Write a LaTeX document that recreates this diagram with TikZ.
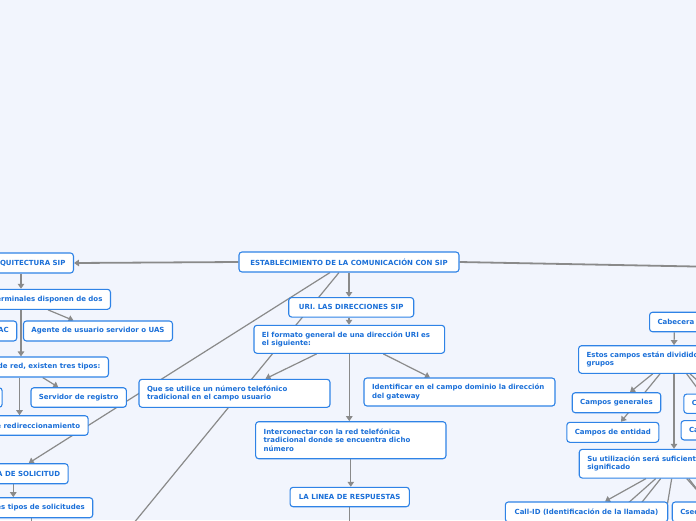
\documentclass[tikz,border=0pt]{standalone}
\usepackage{fontspec}
\setmainfont{DejaVu Sans}
\usetikzlibrary{positioning, arrows.meta, calc}
\definecolor{canvas}{HTML}{F2F5FD}
\definecolor{boxblue}{HTML}{2F83E6}
\definecolor{txtblue}{HTML}{1A6FD8}
\definecolor{linegray}{HTML}{8A8A8A}
\pgfdeclarelayer{bg}
\pgfdeclarelayer{links}
\pgfsetlayers{bg,links,main}

\begin{document}
\begin{tikzpicture}[
        x=1pt, y=-1pt,
        topic/.style={draw=boxblue, fill=white, line width=1.1pt, rounded corners=3pt, text=txtblue, font=\fontsize{7}{8.4}\selectfont\bfseries, inner xsep=8pt, inner ysep=0pt, minimum height=20pt, align=center},
        multi/.style={topic, align=left},
        link/.style={draw=linegray, line width=1.2pt, -{Triangle[width=6.5pt,length=5pt]}},
        mainlink/.style={link, line width=1.8pt}
    ]

    \useasboundingbox (0,0) rectangle (696,520);
    \begin{pgfonlayer}{bg}
        \fill[canvas] (0,0) rectangle (696,520);
    \end{pgfonlayer}

    % Central topic
    \node[topic, minimum width=220pt] (cen) at (349,262) {ESTABLECIMIENTO DE LA COMUNICACIÓN CON SIP};

    % Left branch - architecture
    \node[topic, anchor=east] (arq)   at (74,263)    {ARQUITECTURA SIP};
    \node[topic, anchor=east] (term)  at (111,299.3) {Los terminales disponen de dos};
    \node[topic, anchor=east] (uac)   at (17.3,331)  {Agente de usuario cliente o UAC};
    \node[topic, minimum width=148pt] (uas) at (98,331) {Agente de usuario servidor o UAS};
    \node[topic, anchor=east] (serv)  at (109,367)   {En cuanto a servidores de red, existen tres tipos:};
    \node[topic, anchor=east, minimum height=19.5pt] (proxy) at (2.7,397.5) {Servidor proxy};
    \node[topic, minimum width=95pt, minimum height=19.5pt] (reg) at (78.7,397.5) {Servidor de registro};
    \node[topic, anchor=east, minimum height=19.5pt] (redir) at (88.7,425.5) {Servidor de redireccionamiento};
    \node[topic, anchor=east] (sol)   at (68.7,473.7) {LA LINEA DE SOLICITUD};
    \node[topic, anchor=east] (tipos) at (93.3,507.7) {Los principales tipos de solicitudes};

    % Middle branch - URI
    \node[topic, minimum width=125pt, minimum height=19.5pt] (uri) at (351.2,307.3) {URI. LAS DIRECCIONES SIP};
    \node[multi, text width=174.7pt, minimum height=28pt] (fmt) at (349.3,339.3) {El formato general de una dirección URI es\\el siguiente:};
    \node[multi, text width=175pt, minimum height=28pt] (que) at (234.5,393.3) {Que se utilice un número telefónico\\tradicional en el campo usuario};
    \node[multi, text width=175pt, minimum height=28pt] (ide) at (459.5,392) {Identificar en el campo dominio la dirección\\del gateway};
    \node[multi, text width=174.3pt, minimum height=37pt] (inter) at (350.8,440.2) {Interconectar con la red telefónica\\tradicional donde se encuentra dicho\\número};
    \node[topic, minimum width=119.3pt, minimum height=19.4pt] (resp) at (349.7,497) {LA LINEA DE RESPUESTAS};

    % Right branch - header
    \node[topic, anchor=west, minimum height=19.5pt] (cab) at (649,322) {Cabecera};
    \node[multi, anchor=west, text width=200pt, minimum height=27.6pt] (est) at (578,359.5) {Estos campos están divididos en cuatro\\grupos};
    \node[topic, minimum width=88.4pt] (gen) at (616.5,402.7) {Campos generales};
    \node[topic, minimum width=91pt] (ent) at (612.8,432.3) {Campos de entidad};
    \node[topic, anchor=west, minimum height=19.3pt] (pet) at (683.3,403.7) {Campos de petición};
    \node[topic, anchor=west, minimum height=19.3pt] (res) at (680.5,430.3) {Campos de respuesta};
    \node[multi, anchor=west, text width=200pt, minimum height=28.7pt] (util) at (578.7,463.7) {Su utilización será suficiente para conocer su\\significado};
    \node[topic, minimum width=162.4pt] (call) at (586.5,512) {Call-ID (Identificación de la llamada)};
    \node[topic, anchor=west] (cseq) at (671.7,512) {Cseq (Número de secuencia)};

    % Free ends beyond the frame
    \coordinate (offR)  at (800,268.5);
    \coordinate (offBL) at (38,640);
    \coordinate (offT)  at (31.7,560);
    \coordinate (offR1) at (349.7,560);
    \coordinate (offU1) at (564,560);
    \coordinate (offU2) at (596,560);
    \coordinate (offU3) at (658,560);
    \coordinate (offU4) at (740,545);

    % Connectors
    \begin{pgfonlayer}{links}
        \draw[mainlink] (cen.west) -- (arq.east);
        \draw[mainlink] (cen.east) -- (offR);
        \draw[link] ([xshift=-19pt]cen.south) -- ([xshift=-40pt]sol.north east);
        \draw[link] ([xshift=-10pt]cen.south) -- (offBL);
        \draw[link] (cen.south) -- (cen.south |- uri.north);

        \draw[link] ([xshift=-53pt]arq.south east) -- ([xshift=-90pt]term.north east);
        \draw[link] ([xshift=-63pt]term.south east) -- ([xshift=-24.5pt]uas.north);
        \draw[link] ([xshift=-90pt]term.south east) -- ([xshift=-88pt]serv.north east);
        \draw[link] ([xshift=-66.3pt]serv.south east) -- ([xshift=-20.4pt]reg.north);
        \draw[link] ([xshift=-89.5pt]serv.south east) -- ([xshift=-69.2pt]redir.north east);
        \draw[link] ([xshift=-55.4pt]sol.south east) -- ([xshift=-80pt]tipos.north east);
        \draw[link] ([xshift=-61.6pt]tipos.south east) -- (offT);

        \draw[link] (uri.south -| cen.south) -- (fmt.north -| cen.south);
        \draw[link] ([xshift=-32.6pt]fmt.south) -- ([xshift=31pt]que.north);
        \draw[link] ([xshift=34pt]fmt.south) -- ([xshift=-29.5pt]ide.north);
        \draw[link] (fmt.south) -- (fmt.south |- inter.north);
        \draw[link] (inter.south) -- (inter.south |- resp.north);
        \draw[link] (resp.south) -- (offR1);

        \draw[link] ([xshift=25.3pt]cab.south west) -- ([xshift=96pt]est.north west);
        \draw[link] ([xshift=74.7pt]est.south west) -- ([xshift=13.5pt]gen.north);
        \draw[link] ([xshift=82pt]est.south west) -- ([xshift=8.2pt]ent.north);
        \draw[link] ([xshift=112pt]est.south west) -- ([xshift=28.7pt]pet.north west);
        \draw[link] ([xshift=108.7pt]est.south west) -- ([xshift=40.5pt]res.north west);
        \draw[link] ([xshift=96pt]est.south west) -- ([xshift=95.3pt]util.north west);

        \draw[link] ([xshift=67.3pt]util.south west) -- ([xshift=18.5pt]call.north);
        \draw[link] ([xshift=77pt]util.south west) -- (offU1);
        \draw[link] ([xshift=82pt]util.south west) -- (offU2);
        \draw[link] ([xshift=93pt]util.south west) -- (offU3);
        \draw[link] ([xshift=108pt]util.south west) -- ([xshift=35.3pt]cseq.north west);
        \draw[link] ([xshift=110pt]util.south west) -- (offU4);
    \end{pgfonlayer}

\end{tikzpicture}
\end{document}
